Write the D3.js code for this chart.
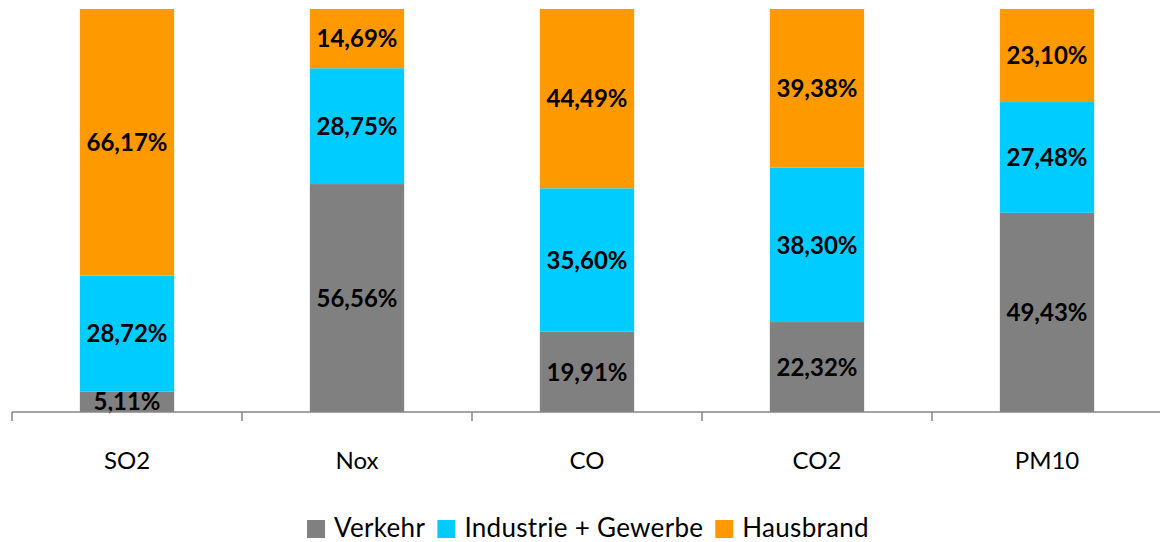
<!DOCTYPE html>
<html>
<head>
<meta charset="utf-8">
<script src="https://cdn.jsdelivr.net/npm/d3@7"></script>
<style>
  html, body { margin: 0; padding: 0; background: #fff; }
  svg { display: block; font-family: Lato, "Open Sans", sans-serif; }
</style>
</head>
<body>
<div id="chart"></div>
<script>
const categories = ["SO2", "Nox", "CO", "CO2", "PM10"];
const seriesNames = ["Verkehr", "Industrie + Gewerbe", "Hausbrand"];
const verkehr = [5.11, 56.56, 19.91, 22.32, 49.43];
const industrie = [28.72, 28.75, 35.60, 38.30, 27.48];
const hausbrand = [66.17, 14.69, 44.49, 39.38, 23.10];
const colors = ["#808080", "#00ccff", "#ff9900"];

const dimensions = {
  width: 1160,
  height: 542,
  margin: { top: 9, right: -2, bottom: 130, left: 12 },
};
dimensions.boundedWidth = dimensions.width - dimensions.margin.left - dimensions.margin.right;
dimensions.boundedHeight = dimensions.height - dimensions.margin.top - dimensions.margin.bottom;

const rows = categories.map((c, i) => ({
  category: c,
  "Verkehr": verkehr[i],
  "Industrie + Gewerbe": industrie[i],
  "Hausbrand": hausbrand[i],
}));

const stacked = d3.stack().keys(seriesNames)(rows);

const svg = d3.select("#chart")
  .append("svg")
  .attr("width", dimensions.width)
  .attr("height", dimensions.height);

const bounds = svg.append("g")
  .attr("transform", `translate(${dimensions.margin.left},${dimensions.margin.top})`);

const xScale = d3.scaleBand()
  .domain(categories)
  .range([0, dimensions.boundedWidth])
  .paddingInner(0.59)
  .paddingOuter(0.295);

const yScale = d3.scaleLinear()
  .domain([0, 100])
  .range([dimensions.boundedHeight, 0]);

const colorScale = d3.scaleOrdinal().domain(seriesNames).range(colors);

const layers = bounds.selectAll(".layer")
  .data(stacked)
  .join("g")
  .attr("class", "layer")
  .attr("fill", (d) => colorScale(d.key));

layers.selectAll("rect")
  .data((d) => d)
  .join("rect")
  .attr("x", (d) => xScale(d.data.category))
  .attr("width", xScale.bandwidth())
  .attr("y", (d) => yScale(d[1]))
  .attr("height", (d) => yScale(d[0]) - yScale(d[1]));

// value labels
const fmt = (v) => d3.format(".2f")(v).replace(".", ",") + "%";
layers.selectAll("text")
  .data((d) => d.map((p) => ({ p, key: d.key })))
  .join("text")
  .attr("x", (d) => xScale(d.p.data.category) + xScale.bandwidth() / 2)
  .attr("y", (d) => (yScale(d.p[0]) + yScale(d.p[1])) / 2)
  .attr("dy", "0.36em")
  .attr("text-anchor", "middle")
  .attr("fill", "#000")
  .style("font-size", "24px")
  .style("font-weight", "bold")
  .text((d) => fmt(d.p[1] - d.p[0]));

// x axis with ticks between categories
const step = xScale.step();
const xAxis = bounds.append("g")
  .attr("transform", `translate(0,${dimensions.boundedHeight})`);
xAxis.append("line")
  .attr("x1", 0)
  .attr("x2", dimensions.boundedWidth)
  .attr("stroke", "#868686")
  .attr("stroke-width", 1.5);
xAxis.selectAll(".tick")
  .data(d3.range(categories.length + 1))
  .join("line")
  .attr("class", "tick")
  .attr("x1", (i) => i * step)
  .attr("x2", (i) => i * step)
  .attr("y1", 0)
  .attr("y2", 9)
  .attr("stroke", "#868686")
  .attr("stroke-width", 1.5);
xAxis.selectAll(".label")
  .data(categories)
  .join("text")
  .attr("class", "label")
  .attr("x", (d) => xScale(d) + xScale.bandwidth() / 2)
  .attr("y", 57)
  .attr("text-anchor", "middle")
  .attr("fill", "#000")
  .style("font-size", "24px")
  .text((d) => d);

// legend
const legend = svg.append("g")
  .attr("transform", `translate(0, 537)`);
const items = legend.selectAll("g")
  .data(seriesNames)
  .join("g");
items.append("rect")
  .attr("y", -17)
  .attr("width", 18)
  .attr("height", 18)
  .attr("fill", (d) => colorScale(d));
items.append("text")
  .attr("x", 27)
  .attr("y", 0)
  .attr("fill", "#000")
  .style("font-size", "26px")
  .style("letter-spacing", "0.3px")
  .text((d) => d);
let xPos = 0;
const positions = [];
items.each(function () {
  positions.push(xPos);
  xPos += this.getBBox().width + 12;
});
const legendStart = 588 - (xPos - 12) / 2;
items.attr("transform", (d, i) => `translate(${legendStart + positions[i]},0)`);
</script>
</body>
</html>
